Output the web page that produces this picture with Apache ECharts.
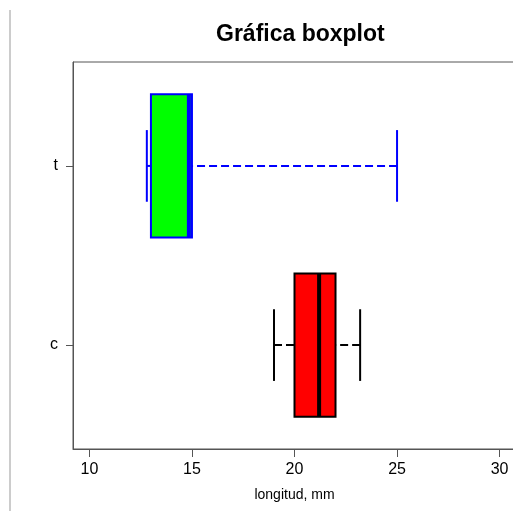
<!DOCTYPE html>
<html>
<head>
<meta charset="utf-8">
<script src="https://cdn.jsdelivr.net/npm/echarts@6/dist/echarts.min.js"></script>
<style>
    html, body { margin: 0; padding: 0; background: #fff; overflow: hidden; }
    /* el gráfico original está recortado por la derecha */
    #chart { width: 520px; height: 511px; }
</style>
</head>
<body>
<div id="chart"></div>
<script>
// grupos (de abajo hacia arriba) y sus estadísticos
const groups = ['c', 't'];
const whiskerLow = [19, 12.8];
const q1 = [20, 13];
const median = [21.2, 14.85];
const q3 = [22, 15];
const whiskerHigh = [23.2, 25];

const fillColors = ['#ff0000', '#00ff00'];
const lineColors = ['#000000', '#0000ff'];

const xTicks = [10, 15, 20, 25, 30];

const FONT = "'Liberation Sans', Arial, sans-serif";

const chart = echarts.init(document.getElementById('chart'));

// cada fila: [posición, min, q1, mediana, q3, max]
const boxData = groups.map((g, i) => [i + 1, whiskerLow[i], q1[i], median[i], q3[i], whiskerHigh[i]]);

function renderBox(params, api) {
    const i = params.dataIndex;
    const pos = api.value(0);
    const lo = api.value(1), a = api.value(2), m = api.value(3), b = api.value(4), hi = api.value(5);
    const stroke = lineColors[i];

    const p = (x, y) => api.coord([x, y]);
    const line = (from, to, style) => ({
        type: 'line',
        shape: { x1: from[0], y1: from[1], x2: to[0], y2: to[1] },
        style: Object.assign({ stroke: stroke, lineWidth: 2 }, style)
    });

    const tl = p(a, pos + 0.4);
    const br = p(b, pos - 0.4);

    return {
        type: 'group',
        children: [
            // bigotes (del extremo hacia la caja, como R)
            line(p(lo, pos), p(a, pos), { lineDash: [8, 4] }),
            line(p(hi, pos), p(b, pos), { lineDash: [8, 4] }),
            line(p(lo, pos - 0.2), p(lo, pos + 0.2)),
            line(p(hi, pos - 0.2), p(hi, pos + 0.2)),
            {
                type: 'rect',
                shape: { x: tl[0], y: tl[1], width: br[0] - tl[0], height: br[1] - tl[1] },
                style: { fill: fillColors[i], stroke: stroke, lineWidth: 2 }
            },
            line(p(m, pos - 0.4), p(m, pos + 0.4), { lineWidth: 4 })
        ]
    };
}

const option = {
    backgroundColor: '#ffffff',
    animation: false,
    title: {
        text: 'Gráfica boxplot',
        left: 211,
        top: 18,
        textStyle: { fontFamily: FONT, fontSize: 23, fontWeight: 'bold', color: '#000' }
    },
    grid: {
        left: 73,
        right: 4,
        top: 62,
        bottom: 62,
        show: true,
        borderColor: '#555',
        borderWidth: 1
    },
    xAxis: {
        type: 'value',
        min: 9.2,
        max: 30.8,
        name: 'longitud, mm',
        nameLocation: 'middle',
        nameGap: 39,
        nameTextStyle: { fontFamily: FONT, fontSize: 14, color: '#000' },
        splitLine: { show: false },
        axisLine: { show: true, lineStyle: { color: '#555' } },
        axisTick: { show: true, length: 8, customValues: xTicks, lineStyle: { color: '#555' } },
        axisLabel: { customValues: xTicks, margin: 13, fontFamily: FONT, fontSize: 16, color: '#000' }
    },
    yAxis: {
        type: 'value',
        min: 0.42,
        max: 2.58,
        splitLine: { show: false },
        axisLine: { show: true, lineStyle: { color: '#555' } },
        axisTick: { show: true, length: 7, customValues: [1, 2], lineStyle: { color: '#555' } },
        axisLabel: {
            customValues: [1, 2],
            margin: 15,
            fontFamily: FONT,
            fontSize: 16,
            color: '#000',
            formatter: v => groups[Math.round(v) - 1] || ''
        }
    },
    graphic: [{
        type: 'line',
        shape: { x1: 10, y1: 10, x2: 10, y2: 511 },
        style: { stroke: '#999', lineWidth: 1 }
    }],
    series: [{
        type: 'custom',
        renderItem: renderBox,
        encode: { x: [1, 2, 3, 4, 5], y: 0 },
        data: boxData
    }]
};

chart.setOption(option);
</script>
</body>
</html>
